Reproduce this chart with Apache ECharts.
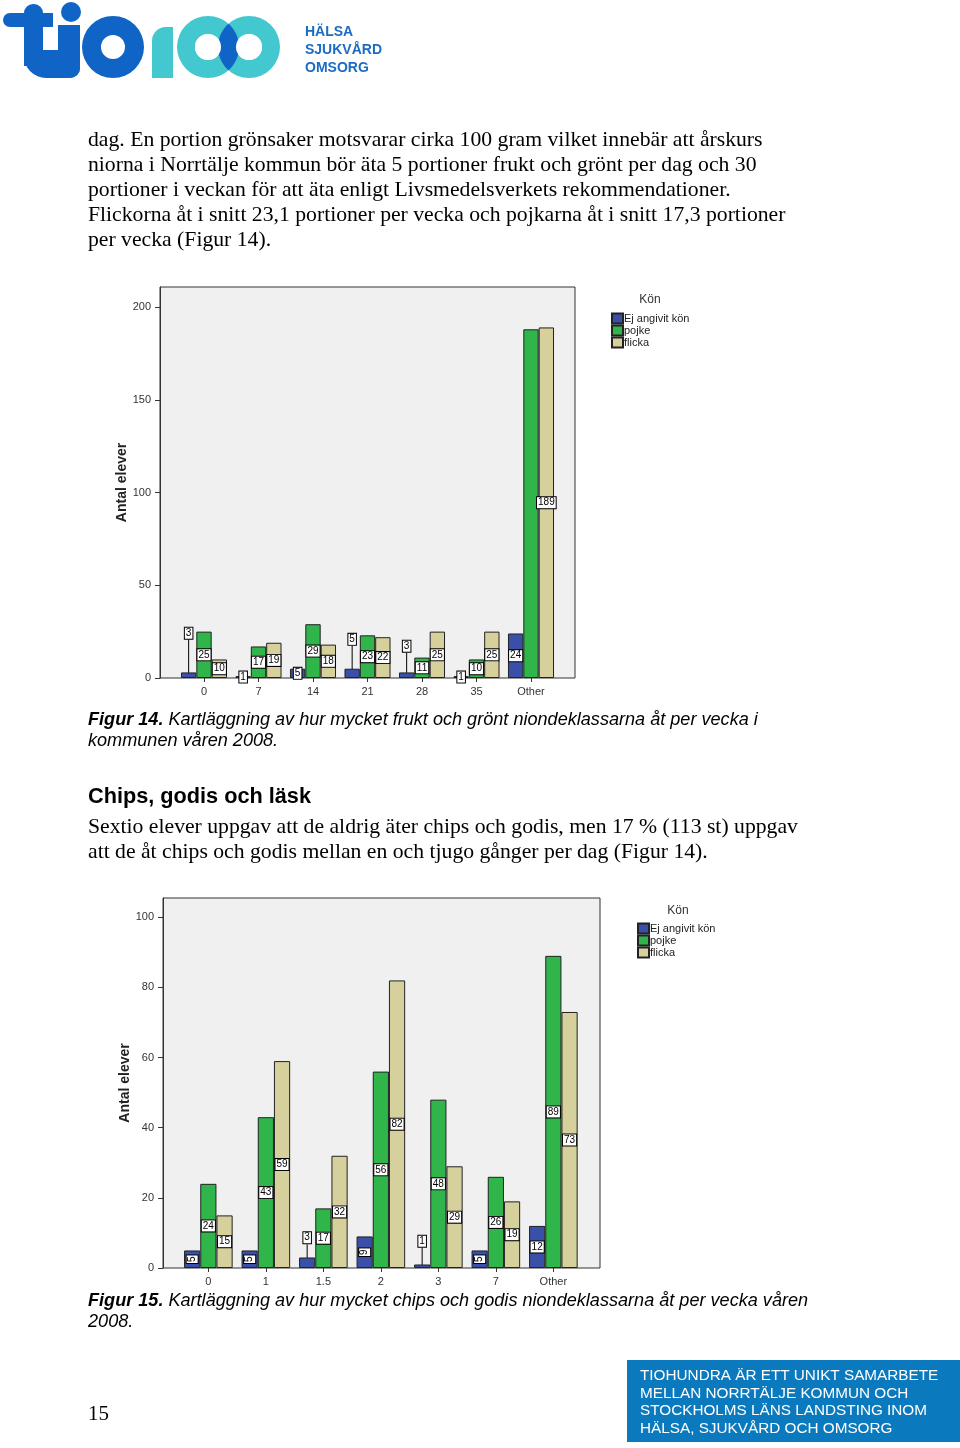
<!DOCTYPE html>
<html><head><meta charset="utf-8">
<script src="https://cdn.jsdelivr.net/npm/echarts@6/dist/echarts.min.js"></script>
<style>html,body{margin:0;padding:0;background:#fff}#c{width:960px;height:1448px}</style>
</head><body><div id="c"></div>
<script>
// ---- Data ----
const seriesNames = ['Ej angivit kön', 'pojke', 'flicka'];
const cats1 = ['0', '7', '14', '21', '28', '35', 'Other'];
const ej1 = [3, 1, 5, 5, 3, 1, 24];
const pojke1 = [25, 17, 29, 23, 11, 10, 188];
const flicka1 = [10, 19, 18, 22, 25, 25, 189];
const yTickVals1 = [0, 50, 100, 150, 200];
const yMax1 = 210.8;
const cats2 = ['0', '1', '1.5', '2', '3', '7', 'Other'];
const ej2 = [5, 5, 3, 9, 1, 5, 12];
const pojke2 = [24, 43, 17, 56, 48, 26, 89];
const flicka2 = [15, 59, 32, 82, 29, 19, 73];
const yTickVals2 = [0, 20, 40, 60, 80, 100];
const yMax2 = 105.5;

// ---- Styling ----
const colors = ['#3a4fa7', '#2fb54a', '#d6d09c'];
const SANS = 'Liberation Sans, Arial, sans-serif';
const SERIF = 'Liberation Serif, Times New Roman, serif';

const chart = echarts.init(document.getElementById('c'), null, { renderer: 'canvas' });

function labelBase() {
  return {
    show: true, position: 'inside', color: '#000', fontSize: 10, fontFamily: SANS,
    backgroundColor: '#fff', borderColor: '#000', borderWidth: 1, padding: [1, 1, 0, 1]
  };
}
const moves = { '0-0': { 0: -42, 3: -34, 4: -29 }, '1-0': { 2: -25, 4: -25 } };
const rotated = { '1-0': [0, 1, 3, 5] };
const hidden = { '0-1': [6] };

function mkSeries(chartIdx, sIdx, values) {
  const key = chartIdx + '-' + sIdx;
  const data = values.map((v, i) => {
    const item = { value: v };
    if (hidden[key] && hidden[key].includes(i)) item.label = { show: false };
    if (rotated[key] && rotated[key].includes(i)) item.label = { rotate: 90 };
    return item;
  });
  return {
    type: 'bar', name: seriesNames[sIdx], xAxisIndex: chartIdx * 2 + 1, yAxisIndex: chartIdx * 2 + 1,
    data, barGap: '0%', barCategoryGap: '15.5%',
    itemStyle: { color: colors[sIdx], borderColor: '#222', borderWidth: 1 },
    label: labelBase(),
    labelLine: { show: true, lineStyle: { color: '#000', width: 1 } },
    labelLayout: function (p) {
      const m = moves[key];
      if (m && m[p.dataIndex] !== undefined) return { dy: m[p.dataIndex] };
      return {};
    },
    emphasis: { disabled: true }
  };
}

const charts = [
  { cats: cats1, ser: [ej1, pojke1, flicka1], ticks: yTickVals1, max: yMax1, nameGap: 26, frame: { left: 160, top: 287, width: 415, height: 391 }, inner: { left: 176.75, width: 381.5 } },
  { cats: cats2, ser: [ej2, pojke2, flicka2], ticks: yTickVals2, max: yMax2, nameGap: 28, frame: { left: 163, top: 898, width: 437, height: 370 }, inner: { left: 179.6, width: 402.5 } }
];

const grid = [], xAxis = [], yAxis = [], series = [];
charts.forEach((c, ci) => {
  grid.push({ left: c.frame.left, top: c.frame.top, width: c.frame.width, height: c.frame.height, show: true, backgroundColor: '#f0f0f0', borderColor: '#333', borderWidth: 1, containLabel: false });
  grid.push({ left: c.inner.left, top: c.frame.top, width: c.inner.width, height: c.frame.height, containLabel: false });
  xAxis.push({ type: 'value', gridIndex: ci * 2, show: false });
  const step = c.ticks[1] - c.ticks[0];
  yAxis.push({
    type: 'value', gridIndex: ci * 2, min: 0, max: c.max, interval: step,
    axisLine: { show: true, lineStyle: { color: '#333' } },
    axisTick: { show: true, length: 5, lineStyle: { color: '#333' }, customValues: c.ticks },
    axisLabel: { fontSize: 11, color: '#333', fontFamily: SANS, margin: 9, customValues: c.ticks,
      formatter: v => (c.ticks.includes(v) ? String(v) : '') },
    splitLine: { show: false },
    name: 'Antal elever', nameLocation: 'middle', nameGap: c.nameGap, nameRotate: 90,
    nameTextStyle: { fontSize: 14, fontWeight: 'bold', color: '#222', fontFamily: SANS }
  });
  xAxis.push({
    type: 'category', gridIndex: ci * 2 + 1, data: c.cats,
    axisLine: { show: false },
    axisTick: { show: true, alignWithLabel: true, length: 4, lineStyle: { color: '#333' } },
    axisLabel: { fontSize: 11, color: '#333', fontFamily: SANS, margin: 8 }
  });
  yAxis.push({ type: 'value', gridIndex: ci * 2 + 1, min: 0, max: c.max, interval: step, show: false });
  c.ser.forEach((vals, si) => series.push(mkSeries(ci, si, vals)));
});

function txt(text, x, y, font, fill, align) {
  return { type: 'text', silent: true, style: { text, x, y, font, fill: fill || '#000', textAlign: align || 'left', textVerticalAlign: 'middle' } };
}

const para1 = [
  'dag. En portion grönsaker motsvarar cirka 100 gram vilket innebär att årskurs',
  'niorna i Norrtälje kommun bör äta 5 portioner frukt och grönt per dag och 30',
  'portioner i veckan för att äta enligt Livsmedelsverkets rekommendationer.',
  'Flickorna åt i snitt 23,1 portioner per vecka och pojkarna åt i snitt 17,3 portioner',
  'per vecka (Figur 14).'
];
const para2 = [
  'Sextio elever uppgav att de aldrig äter chips och godis, men 17 % (113 st) uppgav',
  'att de åt chips och godis mellan en och tjugo gånger per dag (Figur 14).'
];
const footer = [
  'TIOHUNDRA ÄR ETT UNIKT SAMARBETE',
  'MELLAN NORRTÄLJE KOMMUN OCH',
  'STOCKHOLMS LÄNS LANDSTING INOM',
  'HÄLSA, SJUKVÅRD OCH OMSORG'
];

const DB = '#1064c6', TEAL = '#44c8d0';
function lensPoints() {
  const pts = [], r = 31, c1 = 208, c2 = 249, cy = 47;
  const a = Math.acos((c2 - c1) / 2 / r);
  for (let k = 0; k <= 20; k++) { const t = -a + 2 * a * k / 20; pts.push([c1 + r * Math.cos(t), cy + r * Math.sin(t)]); }
  for (let k = 0; k <= 20; k++) { const t = Math.PI - a + 2 * a * k / 20; pts.push([c2 + r * Math.cos(t), cy + r * Math.sin(t)]); }
  return pts;
}
const PARA = '21.7px ' + SERIF, CAP = 'italic 18.1px ' + SANS;
const g = [];
g.push({ type: 'rect', shape: { x: 24, y: 4, width: 19, height: 62, r: [9, 9, 0, 0] }, style: { fill: DB } });
g.push({ type: 'rect', shape: { x: 3, y: 13, width: 50, height: 14, r: [7, 0, 0, 7] }, style: { fill: DB } });
g.push({ type: 'rect', shape: { x: 24, y: 50, width: 56, height: 28, r: [0, 0, 10, 22] }, style: { fill: DB } });
g.push({ type: 'rect', shape: { x: 58, y: 25, width: 22, height: 53, r: [0, 0, 10, 0] }, style: { fill: DB } });
g.push({ type: 'circle', shape: { cx: 71, cy: 12, r: 10 }, style: { fill: DB } });
g.push({ type: 'ring', shape: { cx: 113, cy: 47, r: 31, r0: 12 }, style: { fill: DB } });
g.push({ type: 'rect', shape: { x: 152, y: 27, width: 21, height: 51, r: [14, 0, 0, 0] }, style: { fill: TEAL } });
g.push({ type: 'ring', shape: { cx: 208, cy: 47, r: 31, r0: 13 }, style: { fill: TEAL } });
g.push({ type: 'ring', shape: { cx: 249, cy: 47, r: 31, r0: 13 }, style: { fill: TEAL } });
g.push({ type: 'polygon', shape: { points: lensPoints() }, style: { fill: DB } });
g.push({ type: 'circle', shape: { cx: 208, cy: 47, r: 13 }, style: { fill: '#fff' } });
g.push({ type: 'circle', shape: { cx: 249, cy: 47, r: 13 }, style: { fill: '#fff' } });
g.push(txt('HÄLSA', 305, 32, 'bold 14px ' + SANS, '#1a6cc4'));
g.push(txt('SJUKVÅRD', 305, 50, 'bold 14px ' + SANS, '#1a6cc4'));
g.push(txt('OMSORG', 305, 68, 'bold 14px ' + SANS, '#1a6cc4'));
para1.forEach((t, i) => g.push(txt(t, 88, 140 + i * 25, PARA, '#000')));
g.push(txt('Kön', 650, 300, '12px ' + SANS, '#333', 'center'));
g.push(txt('Kön', 678, 911, '12px ' + SANS, '#333', 'center'));
g.push({ type: 'text', silent: true, style: { x: 88, y: 720, textVerticalAlign: 'middle', text: '{b|Figur 14.} Kartläggning av hur mycket frukt och grönt niondeklassarna åt per vecka i', font: CAP, fill: '#000', rich: { b: { fontWeight: 'bold', fontStyle: 'italic', fontSize: 18.1, fontFamily: SANS } } } });
g.push(txt('kommunen våren 2008.', 88, 741, CAP, '#000'));
g.push(txt('Chips, godis och läsk', 88, 797, 'bold 21.7px ' + SANS, '#000'));
para2.forEach((t, i) => g.push(txt(t, 88, 827 + i * 25, PARA, '#000')));
g.push({ type: 'text', silent: true, style: { x: 88, y: 1301, textVerticalAlign: 'middle', text: '{b|Figur 15.} Kartläggning av hur mycket chips och godis niondeklassarna åt per vecka våren', font: CAP, fill: '#000', rich: { b: { fontWeight: 'bold', fontStyle: 'italic', fontSize: 18.1, fontFamily: SANS } } } });
g.push(txt('2008.', 88, 1322, CAP, '#000'));
g.push(txt('15', 88, 1414, '21px ' + SERIF, '#000'));
g.push({ type: 'rect', shape: { x: 627, y: 1360, width: 333, height: 82 }, style: { fill: '#0b79bd' } });
footer.forEach((t, i) => g.push(txt(t, 640, 1376 + i * 17.5, '15.3px ' + SANS, '#fff')));

const legendCommon = {
  data: seriesNames, orient: 'vertical', itemWidth: 11, itemHeight: 10, itemGap: 0, icon: 'rect', padding: 0,
  textStyle: { fontSize: 11, color: '#222', fontFamily: SANS, padding: [0, 0, 0, -4] }, selectedMode: false
};

chart.setOption({
  animation: false,
  grid, xAxis, yAxis, series,
  legend: [Object.assign({ left: 611, top: 312.5 }, legendCommon), Object.assign({ left: 637, top: 922.5 }, legendCommon)],
  graphic: { elements: g }
});
</script></body></html>
